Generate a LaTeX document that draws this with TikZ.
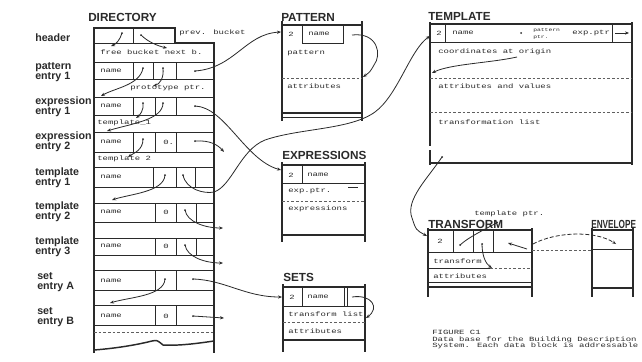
\documentclass[tikz,border=0pt]{standalone}
\usepackage{fontspec}
\usetikzlibrary{arrows.meta}
\newfontfamily\lblfont{Liberation Sans}
\newfontfamily\twfont[FakeStretch=1.4]{Liberation Mono}
\definecolor{ink}{HTML}{2A2A2A}
\begin{document}
\begin{tikzpicture}[x=0.75pt,y=-0.75pt,
  box/.style={draw=ink,line width=1.1pt},
  rule/.style={draw=ink,line width=0.65pt},
  dline/.style={draw=ink!75,line width=0.5pt,dash pattern=on 2pt off 1.5pt},
  ptr/.style={draw=ink,line width=0.6pt,-{Stealth[length=3pt,width=2.4pt]}},
  link/.style={draw=ink,line width=0.6pt},
  ttl/.style={font=\lblfont\bfseries\fontsize{8.8}{9}\selectfont,anchor=west,inner sep=0pt,text=ink},
  lbl/.style={font=\lblfont\bfseries\fontsize{8}{7.6}\selectfont,anchor=west,align=left,inner sep=0pt,text=ink},
  tw/.style={font=\twfont\fontsize{4.8}{4.9}\selectfont,anchor=west,inner sep=0pt,text=ink},
  tws/.style={font=\twfont\fontsize{3.4}{3.5}\selectfont,anchor=west,inner sep=0pt,text=ink}
]
\useasboundingbox[fill=white] (0,0) rectangle (642,361);

% ---------------- DIRECTORY ----------------
\node[ttl] (tdir) at (88,17) {DIRECTORY};
\draw[box] (94,353) -- (94,28) -- (175,28) -- (175,43) -- (214,43) -- (214,353);
\draw[rule] (94,43) -- (175,43);
\foreach \yy in {62,79,97,115,132,152,167,187,203,222,238,255,270,290,305,325}
  \draw[rule] (94,\yy) -- (214,\yy);
\draw[dline] (94,332) -- (214,332);
\draw[box] (94,350) .. controls (120,348) and (140,344) .. (152,341)
  .. controls (157,340) .. (163,345) .. controls (180,346) and (200,343) .. (214,341);
% cell dividers
\draw[rule] (133,28) -- (133,43);
\foreach \xx in {133,153,176} \draw[rule] (\xx,62) -- (\xx,79);
\foreach \xx in {133,155,176} \draw[rule] (\xx,97) -- (\xx,115);
\foreach \xx in {133,155,176} \draw[rule] (\xx,132) -- (\xx,152);
\foreach \xx in {153,176,195} \draw[rule] (\xx,167) -- (\xx,187);
\foreach \xx in {155,176,196} \draw[rule] (\xx,203) -- (\xx,222);
\foreach \xx in {155,176,196} \draw[rule] (\xx,238) -- (\xx,255);
\foreach \xx in {155,176} \draw[rule] (\xx,270) -- (\xx,290);
\foreach \xx in {155,176} \draw[rule] (\xx,305) -- (\xx,325);

% left labels
\node[lbl] (lh) at (35,38) {header};
\node[lbl] (lp1) at (35,72) {pattern\\entry 1};
\node[lbl] (le1) at (35,107) {expression\\entry 1};
\node[lbl] (le2) at (35,142) {expression\\entry 2};
\node[lbl] (lt1) at (35,178) {template\\entry 1};
\node[lbl] (lt2) at (35,212) {template\\entry 2};
\node[lbl] (lt3) at (35,247) {template\\entry 3};
\node[lbl] (lsa) at (37,282) {set\\entry A};
\node[lbl] (lsb) at (37,317) {set\\entry B};

% directory texts
\node[tw] (prev) at (179,33) {prev. bucket};
\node[tw] (free) at (100,52) {free bucket next b.};
\node[tw] (np) at (100,71) {name};
\node[tw] (proto) at (130,88) {prototype ptr.};
\node[tw] (ne1) at (100,106) {name};
\node[tw] (tp1) at (97,123) {template\_1};
\node[tw] (ne2) at (100,142) {name};
\node[tw] (z2) at (163,142) {0.};
\node[tw] (tp2) at (97,159) {template 2};
\node[tw] (nt1) at (100,177) {name};
\node[tw] (nt2) at (100,212) {name};
\node[tw] (z3) at (163,212) {0};
\node[tw] (nt3) at (100,246) {name};
\node[tw] (z4) at (163,246) {0};
\node[tw] (nsa) at (100,281) {name};
\node[tw] (nsb) at (100,316) {name};
\node[tw] (z5) at (163,316) {0};

% directory pointers
\coordinate (h1a) at (122,33); \coordinate (h1b) at (111,46);
\draw[ptr] (h1a) .. controls (120,40) and (116,44) .. (h1b);
\coordinate (h2a) at (141,35); \coordinate (h2b) at (167,48);
\draw[ptr] (h2a) .. controls (148,42) and (158,46) .. (h2b);
\coordinate (p2) at (143,68); \coordinate (p2t) at (101,96);
\draw[ptr] (p2) .. controls (140,85) and (115,88) .. (p2t);
\coordinate (p3) at (163,68); \coordinate (p3t) at (153,86);
\draw[ptr] (p3) .. controls (164,78) and (160,84) .. (p3t);
\coordinate (p4) at (195,71);
\coordinate (e12) at (143,103); \coordinate (e12t) at (136,118);
\draw[ptr] (e12) .. controls (144,110) and (140,115) .. (e12t);
\coordinate (e13) at (163,103); \coordinate (e13t) at (107,131);
\draw[ptr] (e13) .. controls (163,120) and (130,124) .. (e13t);
\coordinate (e14) at (195,106);
\coordinate (e22) at (143,139); \coordinate (e22t) at (128,157);
\draw[ptr] (e22) .. controls (143,150) and (134,153) .. (e22t);
\coordinate (e24) at (195,141); \coordinate (e24t) at (224,152);
\draw[ptr] (e24) .. controls (210,140) and (218,145) .. (e24t);
\coordinate (t12) at (165,175); \coordinate (t12t) at (112,200);
\draw[ptr] (t12) .. controls (164,192) and (130,194) .. (t12t);
\coordinate (t13) at (183,175);
\coordinate (t23) at (185,210); \coordinate (t23t) at (223,228);
\draw[ptr] (t23) .. controls (187,222) and (205,228) .. (t23t);
\coordinate (t33) at (185,245); \coordinate (t33t) at (223,263);
\draw[ptr] (t33) .. controls (187,257) and (205,263) .. (t33t);
\coordinate (sa2) at (165,279); \coordinate (sa2t) at (110,303);
\draw[ptr] (sa2) .. controls (164,296) and (130,297) .. (sa2t);
\coordinate (sa3) at (193,279);
\coordinate (sb3) at (193,316); \coordinate (sb3t) at (224,318);
\draw[ptr] (sb3) -- (sb3t);
\foreach \c in {h1a,h2a,p2,p3,p4,e12,e13,e14,e22,e24,t12,t13,t23,t33,sa2,sa3,sb3}
  \fill[ink] (\c) circle[radius=1];

% ---------------- PATTERN ----------------
\node[ttl] (tpat) at (281,17) {PATTERN};
\draw[box] (282,21) -- (282,121); \draw[box] (362,21) -- (362,121);
\draw[box] (282,25) -- (362,25);
\draw[rule] (302,25) -- (302,43) -- (343,43) -- (343,25);
\node[tw] (p2n) at (288,34) {2};
\node[tw] (pnm) at (308,34) {name};
\node[tw] (ppat) at (287,53) {pattern};
\draw[dline] (282,78) -- (362,78);
\node[tw] (patt) at (287,86) {attributes};
\draw[box] (282,113) -- (362,113);
\draw[rule] (282,117) -- (362,117);
\coordinate (patin) at (281,32);
\coordinate (pl1) at (352,35); \coordinate (pl2) at (363,77);
\draw[ptr] (pl1) .. controls (378,32) and (382,55) .. (374,65) .. controls (370,72) .. (pl2);

% ---------------- EXPRESSIONS ----------------
\node[ttl] (texp) at (282,155) {EXPRESSIONS};
\draw[box] (282,162) -- (282,242); \draw[box] (365,162) -- (365,242);
\draw[box] (282,165) -- (365,165);
\draw[rule] (302,165) -- (302,183);
\draw[rule] (282,183) -- (365,183);
\node[tw] (x2n) at (288,175) {2};
\node[tw] (xnm) at (307,175) {name};
\node[tw] (xptr) at (288,191) {exp.ptr.};
\draw[rule] (348,187) -- (358,187);
\draw[dline] (282,201) -- (365,201);
\node[tw] (xexp) at (288,209) {expressions};
\draw[box] (282,235) -- (365,235);
\coordinate (expin) at (281,170);

% ---------------- SETS ----------------
\node[ttl] (tset) at (283,277) {SETS};
\draw[box] (283,284) -- (283,352); \draw[box] (365,284) -- (365,352);
\draw[box] (283,287) -- (365,287);
\draw[rule] (302,287) -- (302,306);
\draw[rule] (344,287) -- (344,306); \draw[rule] (347,287) -- (347,306);
\draw[rule] (283,306) -- (365,306);
\node[tw] (s2n) at (289,297) {2};
\node[tw] (snm) at (307,297) {name};
\node[tw] (str) at (288,314) {transform list};
\draw[dline] (283,322) -- (365,322);
\node[tw] (satt) at (288,331) {attributes};
\draw[box] (283,340) -- (365,340);
\coordinate (setin) at (282,297);
\coordinate (sl1) at (352,297); \coordinate (sl2) at (366,318);
\draw[ptr] (sl1) .. controls (372,294) and (380,308) .. (sl2);

% ---------------- TEMPLATE ----------------
\node[ttl] (ttpl) at (428,16) {TEMPLATE};
\draw[box] (430,24) -- (632,24);
\draw[box] (632,22) -- (632,165);
\draw[box] (430,22) -- (430,146);
\draw[box] (430,150) -- (430,165);
\draw[box] (430,163) -- (632,163);
\draw[rule] (430,42) -- (632,42);
\draw[rule] (445,24) -- (445,42); \draw[rule] (612,24) -- (612,42);
\node[tw] (m2n) at (436,33) {2};
\node[tw] (mnm) at (452,33) {name};
\node[tws] (mpat) at (533,30) {pattern};
\node[tws] (mpp) at (533,37) {ptr.};
\node[tw] (mexp) at (572,33) {exp.ptr};
\coordinate (m1) at (521,33); \fill[ink] (m1) circle[radius=1];
\coordinate (m4a) at (615,33); \coordinate (m4b) at (629,33);
\draw[ptr] (m4a) -- (m4b);
\node[tw] (mco) at (438,52) {coordinates at origin};
\coordinate (mc1) at (517,57); \coordinate (mc2) at (432,73);
\draw[ptr] (mc1) .. controls (490,63) and (450,64) .. (mc2);
\draw[dline] (430,78) -- (632,78);
\node[tw] (mav) at (438,86) {attributes and values};
\draw[dline] (430,112) -- (632,112);
\node[tw] (mtl) at (438,122) {transformation list};
\coordinate (tplin) at (430,36);
\coordinate (mt) at (442,157); \fill[ink] (mt) circle[radius=1];

% ---------------- TRANSFORM ----------------
\node[ttl] (ttr) at (428,224) {TRANSFORM};
\node[tw] (tptr) at (474,214) {template ptr.};
\draw[box] (428,228) -- (428,297); \draw[box] (532,228) -- (532,297);
\draw[box] (428,230) -- (532,230);
\draw[rule] (428,252) -- (532,252);
\foreach \xx in {453,473,493} \draw[rule] (\xx,230) -- (\xx,252);
\node[tw] (r2n) at (437,241) {2};
\node[tw] (rtr) at (433,261) {transform};
\draw[rule] (428,268) -- (490,268); \draw[dline] (490,268) -- (532,268);
\node[tw] (ratt) at (433,276) {attributes};
\draw[rule] (428,282) -- (532,282);
\draw[box] (428,287) -- (532,287);
\coordinate (trin) at (427,236);
\coordinate (r2) at (460,245); \coordinate (r2t) at (498,222);
\draw[link] (r2) .. controls (470,236) and (488,228) .. (r2t);
\coordinate (r3) at (482,244); \coordinate (r3t) at (492,268);
\draw[ptr] (r3) .. controls (482,256) and (486,264) .. (r3t);
\coordinate (r4a) at (527,249); \coordinate (r4b) at (508,243);
\draw[ptr] (r4a) -- (r4b);
\foreach \c in {r2,r3} \fill[ink] (\c) circle[radius=1];

% ---------------- ENVELOPE ----------------
\node[ttl] (tenv) at (591,224) {\scalebox{0.7}[1]{ENVELOPE}};
\draw[box] (592,228) -- (592,297); \draw[box] (633,228) -- (633,297);
\draw[box] (592,230) -- (633,230);
\draw[rule] (592,249) -- (633,249);
\draw[box] (592,288) -- (633,288);
\coordinate (envin) at (616,244);
\coordinate (r4c) at (533,244);
\draw[ptr,dash pattern=on 3pt off 1.5pt] (r4c) .. controls (555,232) and (595,230) .. (envin);
\coordinate (rl1) at (532,250); \coordinate (rl2) at (592,250);
\draw[dline] (rl1) -- (rl2);

% ---------------- long connectors ----------------
\draw[ptr] (p4) .. controls (235,68) and (245,34) .. (patin);
\draw[ptr] (e14) .. controls (225,107) and (245,160) .. (expin);
\draw[ptr] (sa3) .. controls (225,280) and (245,297) .. (setin);
\draw[ptr] (t13) .. controls (186,190) and (205,194) .. (214,192)
  .. controls (232,186) and (240,150) .. (265,140)
  .. controls (300,128) and (350,130) .. (375,112)
  .. controls (398,95) and (410,50) .. (tplin);
\draw[ptr] (mt) .. controls (428,178) and (405,200) .. (412,218)
  .. controls (416,230) .. (trin);

% ---------------- caption ----------------
\node[tw,anchor=north west,align=left] (cap) at (432,330)
  {FIGURE C1\\Data base for the Building Description\\System.  Each data block is addressable};
\end{tikzpicture}
\end{document}
